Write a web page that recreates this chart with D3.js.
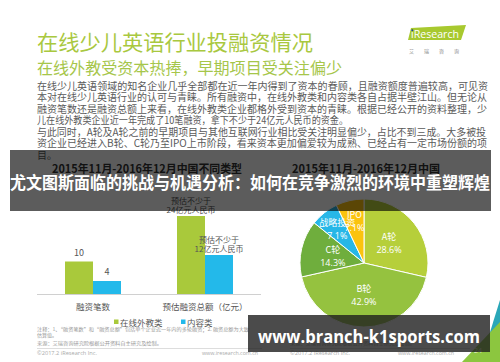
<!DOCTYPE html>
<html><head><meta charset="utf-8">
<script src="https://cdn.jsdelivr.net/npm/d3@7"></script>
<style>html,body{margin:0;padding:0;background:#fff;overflow:hidden}</style>
</head><body>
<svg id="c" width="500" height="362"></svg>
<script>
const pageTitle = "在线少儿英语行业投融资情况";
const pageSubtitle = "在线外教受资本热捧，早期项目受关注偏少";
const paragraphLines = [
  "在线少儿英语领域的知名企业几乎全部都在近一年内得到了资本的眷顾，且融资额度普遍较高，可见资",
  "本对在线少儿英语行业的认可与青睐。所有融资中，在线外教类和内容类各自占据半壁江山。但无论从",
  "融资笔数还是融资总额上来看，在线外教类企业都格外受到资本的青睐。根据已经公开的资料整理，少",
  "儿在线外教类企业近一年完成了10笔融资，拿下不少于24亿元人民币的资金。",
  "与此同时，A轮及A轮之前的早期项目与其他互联网行业相比受关注明显偏少，占比不到三成。大多被投",
  "资企业已经进入B轮、C轮乃至IPO上市阶段，看来资本更加偏爱较为成熟、已经占有一定市场份额的项",
  "目。"
];
const barChartTitle = "2015年11月-2016年12月中国不同类型";
const pieChartTitle = "2015年11月-2016年12月中国";
const barCategories = ["融资笔数", "预估融资总额（亿元）"];
const barSeries = ["在线外教类", "内容类"];
const onlineTeacherValues = [10, 24];
const contentValues = [4, 12];
const onlineTeacherLabels = [["10"], ["预估不少于", "24亿元人民币"]];
const contentLabels = [["4"], ["预估不少于", "12亿元人民币"]];
const pieRounds = ["A轮", "B轮", "C轮", "战略投资", "IPO"];
const pieShares = [28.6, 42.9, 14.3, 7.1, 7.1];
const noteLines = ["注释：1、“融资笔数”和“融资总额”包括单个企业近一年内的多轮融资；2. 融资总额为大致", "估算值。"];
const sourceText = "来源：艾瑞咨询研究院根据公开资料自主研究及绘制。";
const copyrightText = "©2017.2 iResearch Inc.";
const siteText = "www.iresearch.com.cn";
const bannerText = "尤文图斯面临的挑战与机遇分析：如何在竞争激烈的环境中重塑辉煌";
const watermarkText = "www.branch-k1sports.com";
const pageNumber = "24";

const CJK = "'Noto Sans CJK SC','Noto Sans',sans-serif";
const svg = d3.select("#c");

// ---- header ----
svg.append("text").attr("x", 37).attr("y", 50).attr("font-family", CJK)
  .attr("font-size", 21).attr("fill", "#a9c83f").attr("textLength", 276)
  .attr("lengthAdjust", "spacingAndGlyphs").text(pageTitle);
svg.append("text").attr("x", 37).attr("y", 74).attr("font-family", CJK)
  .attr("font-size", 16).attr("fill", "#a6c64a").attr("textLength", 305)
  .attr("lengthAdjust", "spacingAndGlyphs").text(pageSubtitle);

// logo
svg.append("polygon").attr("points", "411,28 466,25 461,40 408,40").attr("fill", "#a8c92f");
svg.append("text").attr("x", 411).attr("y", 37.5).attr("font-family", "'Open Sans',sans-serif")
  .attr("font-size", 10).attr("fill", "#fff").attr("textLength", 48)
  .attr("lengthAdjust", "spacingAndGlyphs").text("iResearch");
svg.append("circle").attr("cx", 412.3).attr("cy", 30.3).attr("r", 1).attr("fill", "#1b3f8f");
svg.append("text").attr("x", 409).attr("y", 53).attr("font-family", CJK)
  .attr("font-size", 5).attr("fill", "#888").attr("textLength", 50)
  .attr("lengthAdjust", "spacing").text("艾瑞咨询");

// paragraph
const paraWidths = [451, 450, 450, 311, 449, 450, null];
svg.append("g").selectAll("text").data(paragraphLines).join("text")
  .attr("x", 37).attr("y", (d, i) => 89.6 + i * 11.5)
  .attr("font-family", CJK).attr("font-size", 10).attr("fill", "#5a5a5a")
  .each(function (d, i) {
    if (paraWidths[i]) d3.select(this).attr("textLength", paraWidths[i]).attr("lengthAdjust", "spacingAndGlyphs");
  })
  .text(d => d);

// chart titles
svg.append("text").attr("x", 52).attr("y", 173).attr("font-family", CJK).attr("font-weight", "bold")
  .attr("font-size", 11.5).attr("fill", "#333").attr("textLength", 190)
  .attr("lengthAdjust", "spacingAndGlyphs").text(barChartTitle);
svg.append("text").attr("x", 292).attr("y", 173).attr("font-family", CJK).attr("font-weight", "bold")
  .attr("font-size", 11.5).attr("fill", "#333").attr("textLength", 148)
  .attr("lengthAdjust", "spacingAndGlyphs").text(pieChartTitle);

// ---- bar chart ----
const seriesValues = [onlineTeacherValues, contentValues];
const seriesLabels = [onlineTeacherLabels, contentLabels];
const barColors = ["#a9c93b", "#23b9ea"];
const x0 = d3.scaleBand().domain(barCategories).range([37, 261]).paddingInner(0.5).paddingOuter(0.25);
const x1 = d3.scaleBand().domain(barSeries).range([0, x0.bandwidth()]);
const y = d3.scaleLinear().domain([0, 24]).range([294, 216]);
const barData = [];
barCategories.forEach((c, ci) => barSeries.forEach((s, si) =>
  barData.push({ c, s, si, v: seriesValues[si][ci], lab: seriesLabels[si][ci] })));
const bars = svg.append("g");
bars.selectAll("rect").data(barData).join("rect")
  .attr("x", d => x0(d.c) + x1(d.s)).attr("width", x1.bandwidth())
  .attr("y", d => y(d.v)).attr("height", d => y(0) - y(d.v))
  .attr("fill", d => barColors[d.si]);
barData.forEach(d => {
  const cx = x0(d.c) + x1(d.s) + x1.bandwidth() / 2;
  const last = y(d.v) - (d.lab.length > 1 ? 3 : 6);
  d.lab.forEach((t, k) => {
    bars.append("text").attr("x", cx).attr("y", last - (d.lab.length - 1 - k) * 9.5)
      .attr("text-anchor", "middle").attr("font-family", CJK)
      .attr("font-size", d.lab.length > 1 ? 8 : 9).attr("fill", "#555").text(t);
  });
});
svg.append("line").attr("x1", 37).attr("x2", 261).attr("y1", 294.5).attr("y2", 294.5)
  .attr("stroke", "#d0d0d0").attr("stroke-width", 1);
svg.append("g").selectAll("text").data(barCategories).join("text")
  .attr("x", d => x0(d) + x0.bandwidth() / 2).attr("y", 310)
  .attr("text-anchor", "middle").attr("font-family", CJK).attr("font-size", 8.5)
  .attr("fill", "#555").text(d => d);

// legend
const legendX = [114, 181];
barSeries.forEach((s, i) => {
  svg.append("rect").attr("x", legendX[i]).attr("y", 319.5).attr("width", 4.5).attr("height", 4.5).attr("fill", barColors[i]);
  svg.append("text").attr("x", legendX[i] + 6).attr("y", 325.5).attr("font-family", CJK)
    .attr("font-size", 8.5).attr("fill", "#555").text(s);
});

// notes
svg.append("text").attr("x", 37).attr("y", 331).attr("font-family", CJK).attr("font-size", 5)
  .attr("fill", "#999").attr("textLength", 212).attr("lengthAdjust", "spacingAndGlyphs").text(noteLines[0]);
svg.append("text").attr("x", 37).attr("y", 336.5).attr("font-family", CJK).attr("font-size", 5)
  .attr("fill", "#999").text(noteLines[1]);
[37, 290].forEach(x => {
  svg.append("text").attr("x", x).attr("y", 345).attr("font-family", CJK).attr("font-size", 5)
    .attr("fill", "#999").attr("textLength", 125).attr("lengthAdjust", "spacingAndGlyphs").text(sourceText);
});
svg.append("line").attr("x1", 37).attr("x2", 262).attr("y1", 348.5).attr("y2", 348.5).attr("stroke", "#ddd");
svg.append("line").attr("x1", 290).attr("x2", 470).attr("y1", 348.5).attr("y2", 348.5).attr("stroke", "#ddd");
[[37, 202], [290, 398]].forEach(([a, b]) => {
  svg.append("text").attr("x", a).attr("y", 355).attr("font-family", "'Open Sans',sans-serif")
    .attr("font-size", 5.5).attr("fill", "#aaa").attr("textLength", 60).attr("lengthAdjust", "spacingAndGlyphs").text(copyrightText);
  svg.append("text").attr("x", b).attr("y", 355).attr("font-family", "'Open Sans',sans-serif")
    .attr("font-size", 5.5).attr("fill", "#aaa").attr("textLength", 56).attr("lengthAdjust", "spacingAndGlyphs").text(siteText);
});

// ---- pie ----
const pieColors = ["#b6cf3a", "#95c23f", "#6fae3d", "#27b7e7", "#fbc30e"];
const pcx = 364, pcy = 263, R = 64;
const pie = d3.pie().sort(null).value(d => d)(pieShares);
const arc = d3.arc().innerRadius(0).outerRadius(R);
const pg = svg.append("g").attr("transform", `translate(${pcx},${pcy})`);
pg.selectAll("path").data(pie).join("path").attr("d", arc)
  .attr("fill", (d, i) => pieColors[i]).attr("stroke", "#fff").attr("stroke-width", 1);
pie.forEach((d, i) => {
  const lr = pieShares[i] < 10 ? 43 : 32;
  const [lx, ly] = d3.arc().innerRadius(lr).outerRadius(lr).centroid(d);
  pg.append("text").attr("x", lx).attr("y", ly - 3).attr("text-anchor", "middle")
    .attr("font-family", CJK).attr("font-size", 9).attr("fill", "#fff").text(pieRounds[i]);
  pg.append("text").attr("x", lx).attr("y", ly + 10).attr("text-anchor", "middle")
    .attr("font-family", "'Open Sans',sans-serif").attr("font-size", 9).attr("fill", "#fff")
    .text(pieShares[i].toFixed(1) + "%");
});

// ---- decorations bottom-right ----
svg.append("polygon").attr("points", "500,300 500,330 486,345").attr("fill", "#2aa7b8");
svg.append("polygon").attr("points", "500,322 500,362 462,362").attr("fill", "#8cc63f");
svg.append("text").attr("x", 474).attr("y", 353).attr("font-family", "'Open Sans',sans-serif")
  .attr("font-size", 7).attr("fill", "#e8f3d0").text(pageNumber);

// ---- overlays ----
svg.append("rect").attr("x", 10).attr("y", 150).attr("width", 481).attr("height", 61)
  .attr("fill", "rgba(0,0,0,0.64)");
svg.append("text").attr("x", 10).attr("y", 189).attr("font-family", CJK).attr("font-weight", "bold")
  .attr("font-size", 16.5).attr("fill", "#fff").attr("textLength", 480)
  .attr("lengthAdjust", "spacingAndGlyphs").text(bannerText);

svg.append("rect").attr("x", 248).attr("y", 315).attr("width", 242).attr("height", 37)
  .attr("fill", "rgba(30,30,30,0.8)");
svg.append("text").attr("x", 258).attr("y", 343).attr("font-family", "'Open Sans','DejaVu Sans',sans-serif")
  .attr("font-weight", "bold").attr("font-size", 17).attr("fill", "#fff").attr("textLength", 222)
  .attr("lengthAdjust", "spacingAndGlyphs").text(watermarkText);
</script>
</body></html>
